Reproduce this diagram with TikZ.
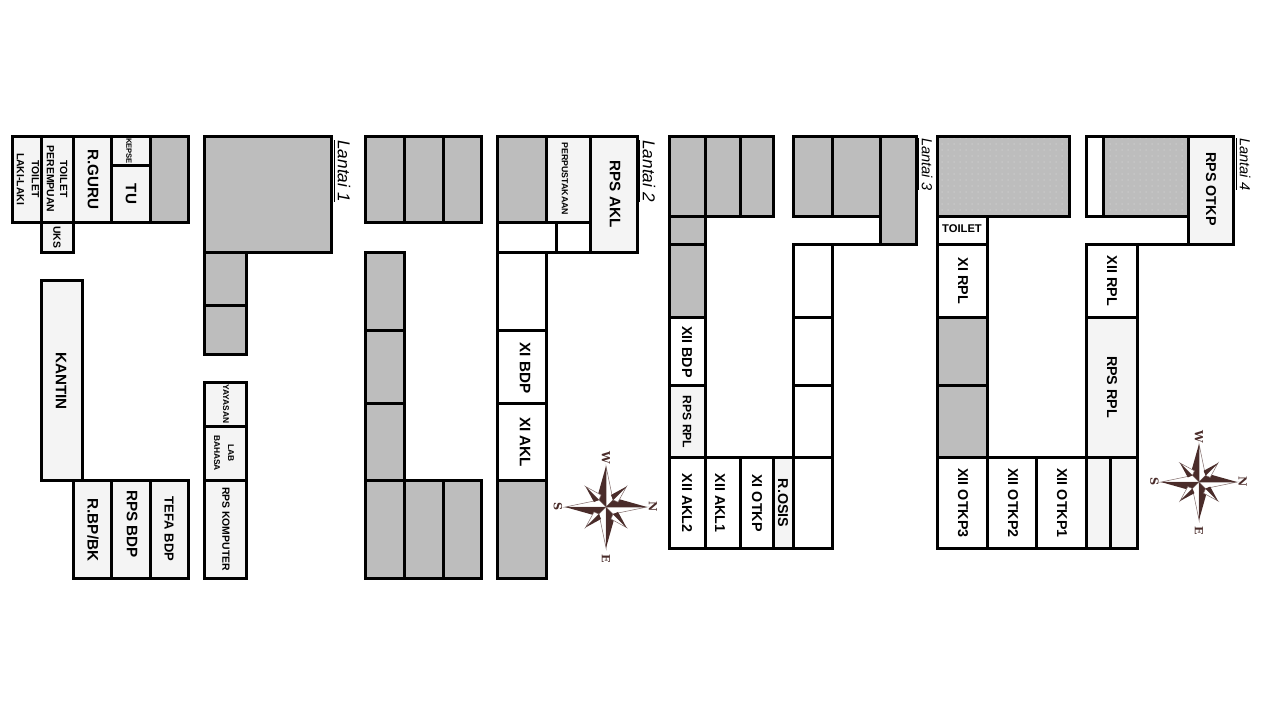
\documentclass[tikz,border=0pt]{standalone}
\usepackage{fontspec}
\usetikzlibrary{patterns}
\setmainfont{Liberation Sans}
\newfontfamily\roseface{DejaVu Serif}
\definecolor{wallgray}{HTML}{BDBDBD}
\definecolor{roomlight}{HTML}{F4F4F4}
\definecolor{rosebrown}{HTML}{4A2C2A}
\tikzset{
  room/.style={draw=black,line width=1.5pt,fill=white},
  lightroom/.style={room,fill=roomlight},
  grayroom/.style={room,fill=wallgray},
  dotroom/.style={draw=black,line width=1.5pt,preaction={fill=wallgray},preaction={pattern=dots,pattern color=wallgray!85!white}},
  roomname/.style={rotate=-90,font=\bfseries\fontsize{7.6pt}{8pt}\selectfont,inner sep=0pt,align=center},
  lowname/.style={rotate=-90,font=\bfseries\fontsize{7.15pt}{8pt}\selectfont,inner sep=0pt,align=center},
  smallname/.style={rotate=-90,font=\bfseries\fontsize{5.2pt}{6.6pt}\selectfont,inner sep=0pt,align=center},
  tinyname/.style={rotate=-90,font=\bfseries\fontsize{4.2pt}{6pt}\selectfont,inner sep=0pt,align=center},
  floorname/.style={rotate=-90,anchor=west,inner sep=0pt},
  roseletter/.style={rotate=-90,inner sep=0pt,text=rosebrown,font=\roseface\bfseries\fontsize{5.6pt}{6pt}\selectfont},
  compassrose/.pic={
    % long points, half dark and half white
    \foreach \a in {0,90,180,270} {
      \draw[rotate=\a,draw=rosebrown!70,line width=.25pt,fill=white] (0,0) -- (0,-41) -- (7,-7) -- cycle;
      \fill[rotate=\a,rosebrown] (0,0) -- (0,-41) -- (-9,-9) -- cycle;
    }
    % short points between them
    \foreach \a in {45,135,225,315} {
      \draw[rotate=\a,draw=rosebrown!70,line width=.25pt,fill=white] (0,-10) -- (0,-29) -- (5,-12) -- cycle;
      \fill[rotate=\a,rosebrown] (0,-10) -- (0,-29) -- (-5,-12) -- cycle;
    }
    \node[roseletter] (-north) at (0,-49) {W};
    \node[roseletter] (-east) at (47,0) {N};
    \node[roseletter] (-south) at (0,52) {E};
    \node[roseletter] (-west) at (-48,0) {S};
  }
}

\begin{document}
\begin{tikzpicture}[x=0.5pt,y=-0.5pt]
    \useasboundingbox (0,0) rectangle (1280,720);

    % Lantai 1, left block
    \draw[lightroom] (12,136) rectangle (41,222);
    \draw[lightroom] (41,136) rectangle (73,222);
    \draw[lightroom] (73,136) rectangle (111,222);
    \draw[lightroom] (111,136) rectangle (150,165);
    \draw[lightroom] (111,165) rectangle (150,222);
    \draw[grayroom] (150,136) rectangle (188,222);
    \draw[lightroom] (41,222) rectangle (73,252);
    \draw[lightroom] (41,280) rectangle (82,480);
    \draw[lightroom] (73,480) rectangle (111,578);
    \draw[lightroom] (111,480) rectangle (150,578);
    \draw[lightroom] (150,480) rectangle (188,578);

    % Lantai 1, right block
    \draw[grayroom] (204,136) rectangle (331,252);
    \draw[grayroom] (204,252) rectangle (246,305);
    \draw[grayroom] (204,305) rectangle (246,354);
    \draw[lightroom] (204,382) rectangle (246,426);
    \draw[lightroom] (204,426) rectangle (246,480);
    \draw[lightroom] (204,480) rectangle (246,578);

    % Lantai 2, left block
    \draw[grayroom] (365,136) rectangle (404,222);
    \draw[grayroom] (404,136) rectangle (443,222);
    \draw[grayroom] (443,136) rectangle (481,222);
    \draw[grayroom] (365,252) rectangle (404,330);
    \draw[grayroom] (365,330) rectangle (404,403);
    \draw[grayroom] (365,403) rectangle (404,480);
    \draw[grayroom] (365,480) rectangle (404,578);
    \draw[grayroom] (404,480) rectangle (443,578);
    \draw[grayroom] (443,480) rectangle (481,578);

    % Lantai 2, right block
    \draw[grayroom] (497,136) rectangle (546,222);
    \draw[lightroom] (546,136) rectangle (590,222);
    \draw[lightroom] (590,136) rectangle (637,252);
    \draw[room] (497,222) rectangle (556,252);
    \draw[room] (556,222) rectangle (590,252);
    \draw[room] (497,252) rectangle (546,330);
    \draw[room] (497,330) rectangle (546,403);
    \draw[room] (497,403) rectangle (546,480);
    \draw[grayroom] (497,480) rectangle (546,578);

    % Lantai 3, left block
    \draw[grayroom] (669,136) rectangle (705,216);
    \draw[grayroom] (705,136) rectangle (740,216);
    \draw[grayroom] (740,136) rectangle (773,216);
    \draw[grayroom] (669,216) rectangle (705,244);
    \draw[grayroom] (669,244) rectangle (705,317);
    \draw[room] (669,317) rectangle (705,385);
    \draw[lightroom] (669,385) rectangle (705,457);
    \draw[room] (669,457) rectangle (705,548);
    \draw[room] (705,457) rectangle (740,548);
    \draw[room] (740,457) rectangle (773,548);
    \draw[lightroom] (773,457) rectangle (793,548);
    \draw[room] (793,457) rectangle (832,548);

    % Lantai 3, right block
    \draw[room] (793,244) rectangle (832,317);
    \draw[room] (793,317) rectangle (832,385);
    \draw[room] (793,385) rectangle (832,457);
    \draw[grayroom] (793,136) rectangle (832,216);
    \draw[grayroom] (832,136) rectangle (880,216);
    \draw[grayroom] (880,136) rectangle (916,244);
    \draw[room] (880,244) -- (793,244);

    % Lantai 4, left block
    \draw[dotroom] (937,136) rectangle (1069,216);
    \draw[room] (937,216) rectangle (987,244);
    \draw[room] (937,244) rectangle (987,317);
    \draw[grayroom] (937,317) rectangle (987,385);
    \draw[grayroom] (937,385) rectangle (987,457);
    \draw[room] (937,457) rectangle (987,548);
    \draw[room] (987,457) rectangle (1036,548);
    \draw[room] (1036,457) rectangle (1086,548);
    \draw[lightroom] (1086,457) rectangle (1110,548);
    \draw[lightroom] (1110,457) rectangle (1137,548);

    % Lantai 4, right block
    \draw[room] (1086,136) rectangle (1103,216);
    \draw[dotroom] (1103,136) rectangle (1188,216);
    \draw[lightroom] (1188,136) rectangle (1233,244);
    \draw[room] (1188,244) -- (1086,244);
    \draw[room] (1086,244) rectangle (1137,317);
    \draw[lightroom] (1086,317) rectangle (1137,457);

    % Room names, Lantai 1
    \node[smallname] (lakilaki) at (28,179) {TOILET\\[1pt]LAKI-LAKI};
    \node[smallname] (perempuan) at (57,179) {TOILET\\PEREMPUAN};
    \node[roomname] (guru) at (93,179) {R.GURU};
    \node[tinyname,font=\bfseries\fontsize{3.8pt}{5pt}\selectfont] (kepse) at (129,151) {KEPSE};
    \node[roomname] (tu) at (131,194) {TU};
    \node[smallname] (uks) at (57,237) {UKS};
    \node[roomname] (kantin) at (61,381) {KANTIN};
    \node[roomname] (bpbk) at (93,530) {R.BP/BK};
    \node[roomname] (rpsbdp) at (132,524) {RPS BDP};
    \node[roomname,font=\bfseries\fontsize{6.5pt}{8pt}\selectfont] (tefa) at (169,529) {TEFA BDP};
    \node[tinyname] (yayasan) at (226,404) {YAYASAN};
    \node[tinyname] (bahasa) at (224,453) {LAB\\[1pt]BAHASA};
    \node[smallname] (komputer) at (226,529) {RPS KOMPUTER};

    % Room names, Lantai 2
    \node[tinyname,font=\bfseries\fontsize{4.4pt}{6pt}\selectfont] (perpus) at (565,179) {PERPUSTAKAAN};
    \node[roomname] (rpsakl) at (615,194) {RPS AKL};
    \node[roomname] (xibdp) at (525,368) {XI BDP};
    \node[roomname] (xiakl) at (525,442) {XI AKL};

    % Room names, Lantai 3
    \node[lowname] (xiibdp) at (687,352) {XII BDP};
    \node[lowname,font=\bfseries\fontsize{6.1pt}{8pt}\selectfont] (rpsrplsmall) at (687,422) {RPS RPL};
    \node[lowname] (aklb) at (687,503) {XII AKL2};
    \node[lowname] (akla) at (720,503) {XII AKL1};
    \node[lowname] (xiotkp) at (757,503) {XI OTKP};
    \node[lowname] (osis) at (783,503) {R.OSIS};

    % Room names, Lantai 4
    \node[font=\bfseries\fontsize{5.6pt}{7pt}\selectfont,inner sep=0pt] (toilet) at (962,229) {TOILET};
    \node[lowname] (xirpl) at (963,281) {XI RPL};
    \node[lowname] (xiirpl) at (1112,281) {XII RPL};
    \node[lowname] (rpsotkp) at (1211,189) {RPS OTKP};
    \node[lowname] (rpsrpl) at (1112,387) {RPS RPL};
    \node[lowname] (otkpc) at (963,503) {XII OTKP3};
    \node[lowname] (otkpb) at (1013,503) {XII OTKP2};
    \node[lowname] (otkpa) at (1062,503) {XII OTKP1};

    % Floor names
    \node[floorname,font=\fontsize{8.6pt}{10pt}\selectfont] (lantaia) at (342,140) {\underline{\textit{Lantai 1}}};
    \node[floorname,font=\fontsize{8.6pt}{10pt}\selectfont] (lantaib) at (647,140) {\underline{\textit{Lantai 2}}};
    \node[floorname,font=\fontsize{7.3pt}{9pt}\selectfont] (lantaic) at (925,138) {\underline{\textit{Lantai 3}}};
    \node[floorname,font=\fontsize{7.3pt}{9pt}\selectfont] (lantaid) at (1243,138) {\underline{\textit{Lantai 4}}};

    % Compass roses
    \pic (rosea) at (606,507) {compassrose};
    \pic[scale=.93] (roseb) at (1199,482) {compassrose};
\end{tikzpicture}
\end{document}
